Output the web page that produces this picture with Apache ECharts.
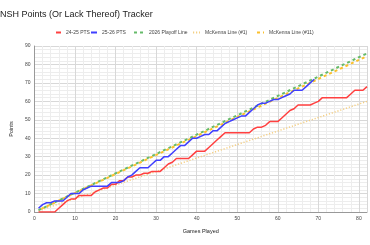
<!DOCTYPE html>
<html><head><meta charset="utf-8">
<script src="https://cdn.jsdelivr.net/npm/echarts@6/dist/echarts.min.js"></script>
<style>html,body{margin:0;padding:0;background:#fff}#c{width:370px;height:245px}</style>
</head><body><div id="c"></div>
<script>
// Data
const games2425 = [1,2,3,4,5,6,7,8,9,10,11,12,13,14,15,16,17,18,19,20,21,22,23,24,25,26,27,28,29,30,31,32,33,34,35,36,37,38,39,40,41,42,43,44,45,46,47,48,49,50,51,52,53,54,55,56,57,58,59,60,61,62,63,64,65,66,67,68,69,70,71,72,73,74,75,76,77,78,79,80,81,82];
const pts2425 = [0,0,0,0,0,2,4,6,7,7,9,9,9,9,11,12,13,13,15,15,17,17,19,19,20,20,21,21,22,22,22,24,26,27,29,29,29,29,31,33,33,33,35,37,39,41,43,43,43,43,43,43,43,45,46,46,47,49,49,49,51,53,55,56,58,58,58,58,59,60,62,62,62,62,62,62,62,64,66,66,66,68];
const games2526 = [1,2,3,4,5,6,7,8,9,10,11,12,13,14,15,16,17,18,19,20,21,22,23,24,25,26,27,28,29,30,31,32,33,34,35,36,37,38,39,40,41,42,43,44,45,46,47,48,49,50,51,52,53,54,55,56,57,58,59,60,61,62,63,64,65,66,67,68,69];
const pts2526 = [2,4,5,5,6,6,6,8,10,10,10,12,13,14,14,14,14,14,16,16,16,17,19,20,22,24,24,24,26,28,28,30,30,32,34,36,36,38,40,40,41,42,42,44,44,46,48,49,50,51,52,52,54,56,58,59,59,60,61,61,62,63,64,66,66,66,68,70,72];
const playoffLine = [[1,1],[82,86]];
const mckenna1 = [[1,0.7],[82,60]];
const mckenna11 = [[1,1],[82,84.5]];
const xTicks = [0,10,20,30,40,50,60,70,80];
const yTicks = [0,10,20,30,40,50,60,70,80,90];
const names = ['24-25 PTS','25-26 PTS','2026 Playoff Line','McKenna Line (#1)','McKenna Line (#11)'];

function zip(xs, ys){ return xs.map((x,i)=>[x, ys[i]]); }

const chart = echarts.init(document.getElementById('c'), null, {renderer:'canvas'});
const font = 'Arial, "Liberation Sans", sans-serif';
const legendBase = {top: 30, itemHeight: 4, itemStyle:{opacity:0},
  textStyle:{fontSize:5, color:'#444', fontFamily:font}, padding:0, selectedMode:false};
chart.setOption({
  animation:false,
  title:{text:'NSH Points (Or Lack Thereof) Tracker', left:0, top:10, padding:0,
    textStyle:{fontSize:9, fontWeight:'normal', color:'#222', fontFamily:font}},
  legend:[
    Object.assign({}, legendBase, {left:55, itemWidth:5, data:[names[0]]}),
    Object.assign({}, legendBase, {left:90, itemWidth:6, data:[names[1]]}),
    Object.assign({}, legendBase, {left:133, itemWidth:10, data:[names[2]]}),
    Object.assign({}, legendBase, {left:192, itemWidth:7, data:[names[3]]}),
    Object.assign({}, legendBase, {left:253, itemWidth:10, data:[names[4]]})
  ],
  grid:{left:23, right:0, top:46, bottom:33, containLabel:false},
  xAxis:{type:'value', min:0, max:82, interval:10,
    name:'Games Played', nameLocation:'middle', nameGap:16,
    nameTextStyle:{fontSize:5.5, color:'#222', fontFamily:font},
    axisLine:{lineStyle:{color:'#999', width:1}}, axisTick:{show:false},
    axisLabel:{fontSize:5, color:'#444', margin:4, fontFamily:font,
      formatter:v=> xTicks.includes(v) ? String(v) : ''},
    splitLine:{lineStyle:{color:'#d8d8d8', width:1}},
    minorTick:{show:false, splitNumber:5},
    minorSplitLine:{show:true, lineStyle:{color:'#ededed', width:1}}},
  yAxis:{type:'value', min:0, max:90, interval:10,
    name:'Points', nameLocation:'middle', nameGap:19, nameRotate:90,
    nameTextStyle:{fontSize:5.5, color:'#222', fontFamily:font},
    axisLine:{show:true, lineStyle:{color:'#999', width:1}}, axisTick:{show:false},
    axisLabel:{fontSize:5, color:'#444', margin:4, fontFamily:font,
      formatter:v=> yTicks.includes(v) ? String(v) : ''},
    splitLine:{lineStyle:{color:'#d8d8d8', width:1}},
    minorTick:{show:false, splitNumber:5},
    minorSplitLine:{show:true, lineStyle:{color:'#ededed', width:1}}},
  series:[
    {name:names[3], type:'line', data:mckenna1, symbol:'none', z:1,
      lineStyle:{color:'#f4cf84', width:1.5, type:[1.2,1.8]}, itemStyle:{color:'#f4cf84'}},
    {name:names[0], type:'line', data:zip(games2425,pts2425), symbol:'none', z:3,
      lineStyle:{color:'#ff4040', width:1.5}, itemStyle:{color:'#ff4040'}},
    {name:names[2], type:'line', data:playoffLine, symbol:'none', z:2,
      lineStyle:{color:'#66bb6a', width:2, type:[3,3]}, itemStyle:{color:'#66bb6a'}},
    {name:names[4], type:'line', data:mckenna11, symbol:'none', z:2,
      lineStyle:{color:'#fbc02d', width:2, type:[3,3], dashOffset:3}, itemStyle:{color:'#fbc02d'}},
    {name:names[1], type:'line', data:zip(games2526,pts2526), symbol:'none', z:4,
      lineStyle:{color:'#3f3fff', width:1.5}, itemStyle:{color:'#3f3fff'}}
  ]
});
</script></body></html>
